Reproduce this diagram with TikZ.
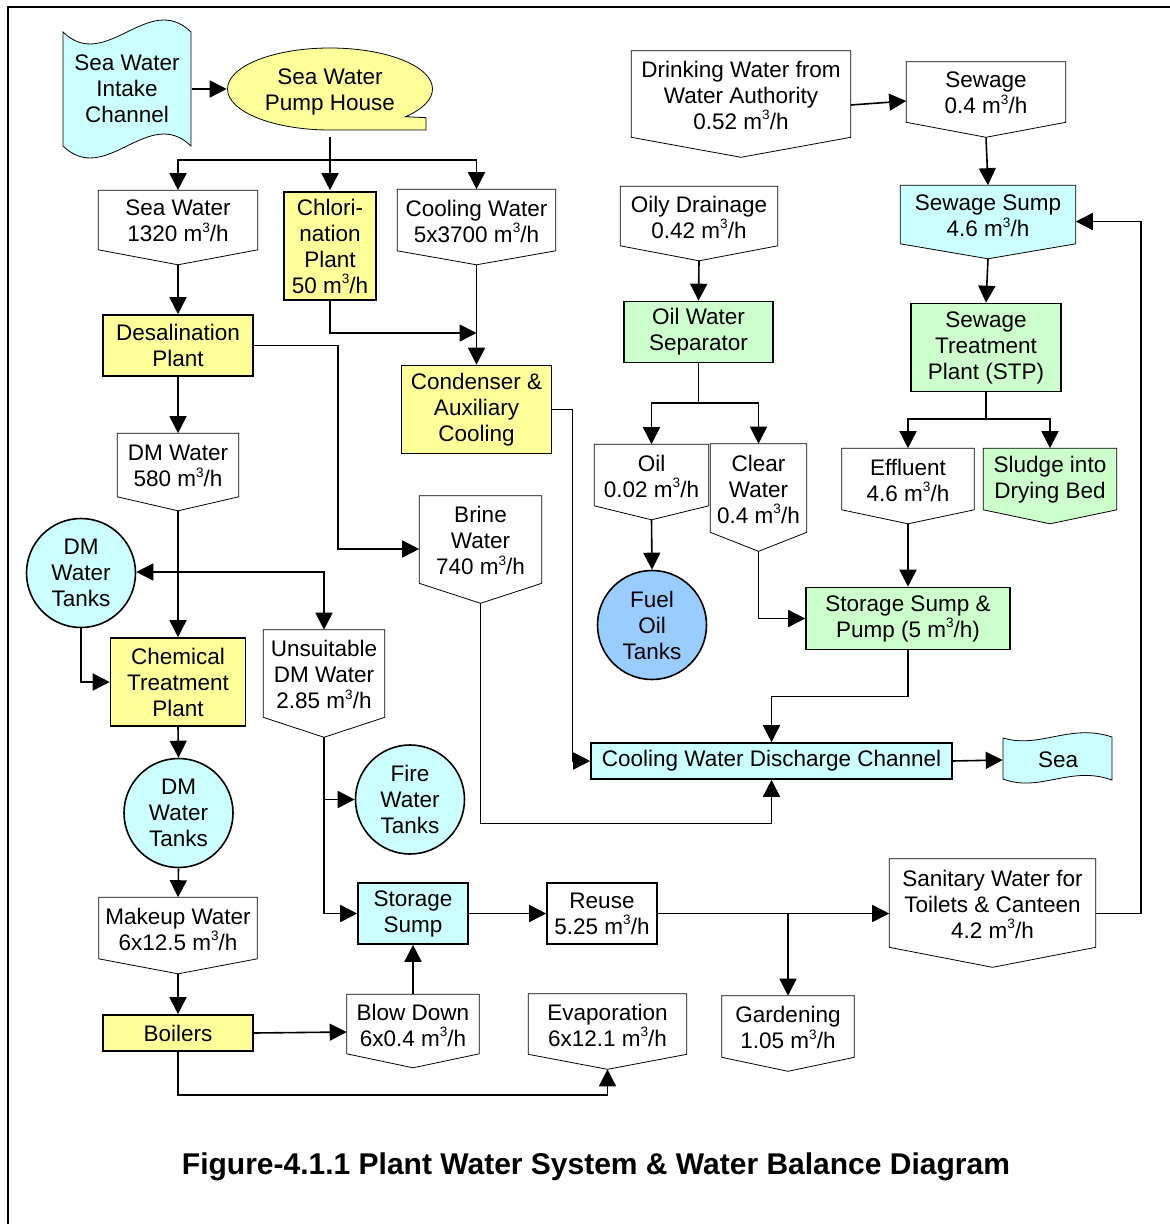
\documentclass[tikz,border=0pt]{standalone}
\usepackage{fontspec}
\setmainfont{Liberation Sans}
\usetikzlibrary{arrows.meta, calc, backgrounds, shapes.geometric}
\definecolor{WaterCyan}{HTML}{CCFFFF}
\definecolor{PlantYellow}{HTML}{FFFF99}
\definecolor{TreatGreen}{HTML}{CCFFCC}
\definecolor{OilBlue}{HTML}{99CCFF}
\newcommand{\flowu}{m\raisebox{4.6pt}{\fontsize{6.8}{6.8}\selectfont 3}/h}

\begin{document}
\begin{tikzpicture}[x=0.5pt, y=-0.5pt, line width=0.8pt,
  >={Triangle[length=8.5pt,width=8.5pt]},
  every node/.style={font=\fontsize{11.25}{13}\selectfont, align=center, inner sep=0pt},
  plant/.style={draw, rectangle},
  flow/.style={rectangle},
  tank/.style={draw, circle, minimum size=54.5pt}]
  \useasboundingbox (0,0) rectangle (1170,1224);

  % Frame
  \draw (8,1224) -- (8,7) -- (1170,7);

  % Intake and pump house
  \node (intake) at (127,89) [minimum width=64pt] {Sea Water\\Intake\\Channel};
  \node (pump) at (330,92) [ellipse, minimum width=102.5pt, minimum height=41pt] {Sea Water\\Pump House};

  % Sea water branches
  \node[flow] (seaw) at (178,221) [minimum width=79pt, minimum height=29pt] {Sea Water\\1320 \flowu};
  \node[plant, fill=PlantYellow] (chlor) at (330,246) [minimum width=46pt, minimum height=54pt] {Chlori-\\nation\\Plant\\50 \flowu};
  \node[flow] (cool) at (476.5,221) [minimum width=78.5pt, minimum height=30pt] {Cooling Water\\5x3700 \flowu};
  \node[plant, fill=PlantYellow] (desal) at (178,345.5) [minimum width=75pt, minimum height=30.5pt] {Desalination\\Plant};
  \node[plant, fill=PlantYellow] (cond) at (476.5,409.5) [minimum width=75pt, minimum height=44pt] {Condenser \&\\Auxiliary\\Cooling};
  \node[flow] (brine) at (480.5,540.5) [minimum width=60.5pt, minimum height=43pt] {Brine\\Water\\740 \flowu};

  % DM water chain
  \node[flow] (dmw) at (178,466) [minimum width=60pt, minimum height=31pt] {DM Water\\580 \flowu};
  \node[tank, fill=WaterCyan] (dmt1) at (81,573) {DM\\Water\\Tanks};
  \node[plant, fill=PlantYellow] (chem) at (178,682) [minimum width=67.5pt, minimum height=44pt] {Chemical\\Treatment\\Plant};
  \node[flow] (unsuit) at (324,674.5) [minimum width=60pt, minimum height=43pt] {Unsuitable\\DM Water\\2.85 \flowu};
  \node[tank, fill=WaterCyan] (dmt2) at (178.5,813) {DM\\Water\\Tanks};
  \node[tank, fill=WaterCyan] (fire) at (410,799.5) {Fire\\Water\\Tanks};
  \node[flow] (makeup) at (178,929) [minimum width=78.5pt, minimum height=30pt] {Makeup Water\\6x12.5 \flowu};
  \node[plant, fill=PlantYellow] (boil) at (178,1033) [minimum width=75pt, minimum height=18pt] {Boilers};
  \node[flow] (blow) at (413,1025) [minimum width=65.5pt, minimum height=29pt] {Blow Down\\6x0.4 \flowu};
  \node[plant, fill=WaterCyan] (ssump) at (413,913.5) [minimum width=55pt, minimum height=30.5pt] {Storage\\Sump};
  \node[plant] (reuse) at (602,913.5) [minimum width=55pt, minimum height=30.5pt] {Reuse\\5.25 \flowu};
  \node[flow] (evap) at (607.5,1025) [minimum width=78.5pt, minimum height=29.5pt] {Evaporation\\6x12.1 \flowu};
  \node[flow] (garden) at (788,1027.5) [minimum width=65.5pt, minimum height=30pt] {Gardening\\1.05 \flowu};
  \node[flow] (sanit) at (992.5,904) [minimum width=102.5pt, minimum height=43.5pt] {Sanitary Water for\\Toilets \& Canteen\\4.2 \flowu};

  % Drinking water and sewage
  \node[flow] (drink) at (741,95) [minimum width=109pt, minimum height=42.5pt] {Drinking Water from\\Water Authority\\0.52 \flowu};
  \node[flow] (sewage) at (986,93) [minimum width=79pt, minimum height=29.5pt] {Sewage\\0.4 \flowu};
  \node[flow] (swsump) at (988,215.5) [minimum width=87pt, minimum height=28.5pt] {Sewage Sump\\4.6 \flowu};
  \node[plant, fill=TreatGreen] (stp) at (986,347.5) [minimum width=75pt, minimum height=44pt] {Sewage\\Treatment\\Plant (STP)};
  \node[flow] (effl) at (908,480) [minimum width=65.5pt, minimum height=30pt] {Effluent\\4.6 \flowu};
  \node[flow] (sludge) at (1050,480) [minimum width=66pt, minimum height=30pt] {Sludge into\\Drying Bed};
  \node[plant, fill=TreatGreen] (ssp) at (908,618.5) [minimum width=102pt, minimum height=31pt] {Storage Sump \&\\Pump (5 \flowu)};

  % Oily drainage
  \node[flow] (oily) at (699,217) [minimum width=78pt, minimum height=29pt] {Oily Drainage\\0.42 \flowu};
  \node[plant, fill=TreatGreen] (ows) at (698.5,332) [minimum width=74.5pt, minimum height=30.5pt] {Oil Water\\Separator};
  \node[flow] (oil) at (651.5,476) [minimum width=56.5pt, minimum height=30pt] {Oil\\0.02 \flowu};
  \node[flow] (clear) at (758.5,489) [minimum width=47.5pt, minimum height=43.5pt] {Clear\\Water\\0.4 \flowu};
  \node[tank, fill=OilBlue] (fuel) at (652,625) {Fuel\\Oil\\Tanks};

  % Discharge
  \node[plant, fill=WaterCyan] (disch) at (771.5,761) [minimum width=180.5pt, minimum height=18pt] {Cooling Water Discharge Channel};
  \node (sea) at (1058,760) [minimum width=54.5pt] {Sea};

  \node[font=\bfseries\fontsize{15}{18}\selectfont] (title) at (596,1167)
    {Figure-4.1.1 Plant Water System \& Water Balance Diagram};

  \begin{scope}[on background layer]
    % tapes
    \filldraw[fill=WaterCyan] (63,32) .. controls (105.7,73.5) and (148.3,-9.5) .. (191,32)
      -- (191,146) .. controls (148.3,104.5) and (105.7,187.5) .. (63,146) -- cycle;
    \filldraw[fill=WaterCyan] (1003,738) .. controls (1040,749) and (1070,723) .. (1112,737)
      -- (1112,780) .. controls (1070,765) and (1040,793) .. (1003,779) -- cycle;
    % pump house callout
    \filldraw[fill=PlantYellow] (330,130) arc[start angle=90, end angle=402.5, x radius=102.5, y radius=41]
      -- (426,117.7) -- (426,130) -- cycle;
    % boxes with pointed bottom
    \foreach \nm/\tip/\col in {seaw/15/white, cool/14/white, dmw/14/white, brine/20/white,
        unsuit/20/white, makeup/15/white, blow/14/white, evap/15/white, garden/14/white,
        sanit/20/white, drink/20/white, sewage/15/white, swsump/15/WaterCyan, oily/15/white,
        oil/14/white, clear/19/white, effl/14/white, sludge/14/TreatGreen}
      \filldraw[fill=\col] ([yshift=0.5pt]\nm.north west) -- ([yshift=0.5pt]\nm.north east)
        -- ([yshift=0.5pt]\nm.south east) -- ($(\nm.south)+(0,\tip-1)$) coordinate (\nm-t)
        -- ([yshift=0.5pt]\nm.south west) -- cycle;
  \end{scope}

  % Sea water side
  \draw[->] (intake.east) -- ([yshift=1.5pt]pump.west);
  \coordinate (pj) at (330,160);
  \draw ([yshift=-1.5pt]pump.south) -- (pj);
  \draw[->] (pj) -| ([yshift=0.5pt]seaw.north);
  \draw[->] (pj) -- ([yshift=0.5pt]chlor.north);
  \draw[->] (pj) -| ([yshift=0.5pt]cool.north);
  \draw[->] (seaw-t) -- (desal.north);
  \coordinate (cj) at (476.5,333);
  \draw[->] (chlor.south) |- (cj);
  \draw[->] (cool-t) -- (cond.north);
  \draw[->] (cond.east) -- ++(20,0) |- (disch.west);
  \draw[->] (desal.east) -- ++(84,0) |- (brine.west |- 0,549);
  \draw[->] (brine-t) -- ++(0,220) -| (disch.south);

  % DM water side
  \draw[->] (desal.south) -- ([yshift=0.5pt]dmw.north);
  \coordinate (dj) at (178,572);
  \draw (dmw-t) -- (dj);
  \draw[->] (dj) -- (chem.north);
  \draw[->] (dj) -- (dmt1.east |- dj);
  \draw[->] (dj) -| ([yshift=0.5pt]unsuit.north);
  \draw[->] (dmt1.south) |- (chem.west);
  \draw[->] (chem.south) -- (dmt2.north);
  \draw[->] (dmt2.south) -- ([yshift=0.5pt]makeup.north);
  \draw[->] (makeup-t) -- (boil.north);
  \draw[->] (boil.east) -- ([yshift=0.5pt]blow.west |- boil.east);
  \draw[->] (boil.south) -- ++(0,43) -| (evap-t);
  \draw[->] ([yshift=0.5pt]blow.north) -- (ssump.south);
  \draw[->] (unsuit-t) |- (ssump.west);
  \draw[->] (unsuit-t |- fire.west) -- (fire.west);
  \draw[->] (ssump.east) -- (reuse.west);
  \draw[->] (reuse.east) -- (sanit.west |- reuse.east);
  \draw[->] (reuse.east -| garden.north) -- ([yshift=0.5pt]garden.north);
  \draw[->] (sanit.east |- reuse.east) -- ++(45,0) |- ([yshift=-3pt]swsump.east);

  % Sewage side
  \draw[->] ([yshift=-5pt]drink.east) -- ([yshift=-4pt]sewage.west);
  \draw[->] (sewage-t) -- ([yshift=0.5pt]swsump.north);
  \draw[->] (swsump-t) -- (stp.north);
  \coordinate (sj) at (986,419);
  \draw (stp.south) -- (sj);
  \draw[->] (sj) -| ([yshift=0.5pt]effl.north);
  \draw[->] (sj) -| ([yshift=0.5pt]sludge.north);
  \draw[->] (effl-t) -- (ssp.north);
  \draw[->] (ssp.south) -- ++(0,46) -| (disch.north);
  \draw[->] (disch.east) -- (sea.west);

  % Oily drainage side
  \draw[->] (oily-t) -- (ows.north);
  \coordinate (oj) at (698.5,403);
  \draw (ows.south) -- (oj);
  \draw[->] (oj) -| ([yshift=0.5pt]oil.north);
  \draw[->] (oj) -| ([yshift=0.5pt]clear.north);
  \draw[->] (oil-t) -- (fuel.north);
  \draw[->] (clear-t) |- (ssp.west);
\end{tikzpicture}
\end{document}
